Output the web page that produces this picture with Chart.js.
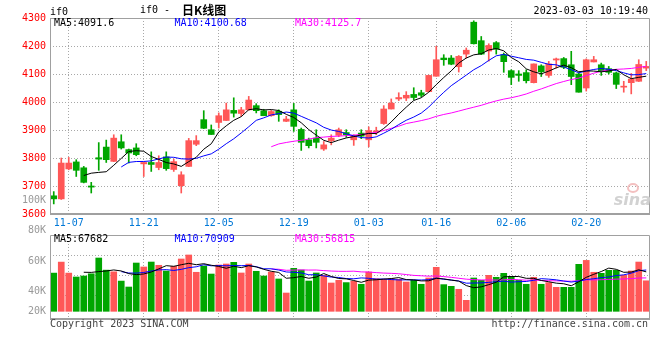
<!DOCTYPE html>
<html>
<head>
<meta charset="utf-8">
<script src="https://cdn.jsdelivr.net/npm/chart.js@4"></script>
<style>
  html, body { margin: 0; padding: 0; background: #fff; }
  #wrap { position: relative; width: 660px; height: 360px; overflow: hidden; }
  canvas { position: absolute; left: 0; }
  #kChart { top: 0; }
  #volChart { top: 222px; }
</style>
</head>
<body>
<div id="wrap">
  <canvas id="kChart" width="660" height="228"></canvas>
  <canvas id="volChart" width="660" height="118"></canvas>
</div>
<script>
const dates = [
  "11-03","11-04","11-07","11-08","11-09","11-10","11-11","11-14","11-15","11-16",
  "11-17","11-18","11-21","11-22","11-23","11-24","11-25","11-28","11-29","11-30",
  "12-01","12-02","12-05","12-06","12-07","12-08","12-09","12-12","12-13","12-14",
  "12-15","12-16","12-19","12-20","12-21","12-22","12-23","12-26","12-27","12-28",
  "12-29","12-30","01-03","01-04","01-05","01-06","01-09","01-10","01-11","01-12",
  "01-13","01-16","01-17","01-18","01-19","01-20","01-30","01-31","02-01","02-02",
  "02-03","02-06","02-07","02-08","02-09","02-10","02-13","02-14","02-15","02-16",
  "02-17","02-20","02-21","02-22","02-23","02-24","02-27","02-28","03-01","03-02"
];
const dateTicks = ["11-07","11-21","12-05","12-19","01-03","01-16","02-06","02-20"];

const opens = [
  3665,3654,3761,3786,3765,3700,3801,3839,3788,3858,
  3830,3836,3779,3784,3766,3804,3759,3701,3770,3849,
  3937,3901,3927,3934,3970,3959,3972,3987,3969,3951,
  3967,3931,3972,3902,3865,3871,3832,3862,3881,3891,
  3865,3889,3865,3892,3923,3975,4011,4014,4027,4033,
  4037,4092,4157,4157,4126,4171,4285,4219,4182,4212,
  4169,4112,4100,4105,4069,4129,4095,4150,4155,4133,
  4100,4050,4143,4133,4119,4104,4053,4069,4074,4121
];
const highs = [
  3680,3800,3802,3794,3770,3713,3855,3864,3883,3883,
  3832,3851,3784,3822,3808,3822,3796,3751,3870,3880,
  3969,3918,3961,3996,4015,3981,4020,3994,3974,3970,
  3972,3949,3995,3907,3871,3901,3859,3883,3907,3901,
  3883,3901,3911,3910,3987,4011,4033,4037,4051,4042,
  4096,4199,4169,4166,4166,4193,4290,4234,4208,4216,
  4175,4115,4112,4115,4136,4133,4145,4157,4159,4181,
  4104,4154,4163,4139,4127,4107,4074,4102,4151,4145
];
const lows = [
  3636,3652,3758,3734,3711,3675,3756,3784,3787,3832,
  3782,3808,3734,3752,3758,3756,3752,3675,3769,3844,
  3905,3884,3907,3934,3946,3949,3971,3961,3951,3949,
  3931,3930,3895,3827,3836,3836,3827,3847,3876,3874,
  3845,3869,3840,3883,3920,3975,4005,4005,4008,4018,
  4036,4092,4131,4133,4107,4157,4207,4169,4146,4171,
  4106,4062,4074,4068,4068,4091,4088,4121,4119,4062,
  4035,4039,4143,4095,4100,4048,4035,4029,4073,4112
];
const closes = [
  3654,3782,3782,3756,3713,3696,3796,3794,3871,3836,
  3818,3812,3784,3777,3784,3762,3787,3740,3862,3862,
  3906,3884,3951,3972,3960,3972,4007,3969,3951,3966,
  3955,3939,3913,3856,3844,3856,3847,3871,3901,3883,
  3880,3878,3898,3897,3975,3996,4016,4024,4016,4024,
  4095,4151,4151,4135,4163,4185,4208,4171,4202,4189,
  4144,4088,4095,4076,4136,4108,4136,4154,4124,4091,
  4035,4151,4151,4111,4106,4063,4055,4082,4134,4127
];
const volumes = [
  65600,84500,65600,58900,60600,64400,91500,70700,67800,51900,
  41700,82900,76100,84600,79000,69200,77300,89800,96700,67000,
  77800,64000,79500,81200,84100,65800,81200,68700,60600,67500,
  55500,31400,73800,70900,52000,65800,61800,48600,53200,49300,
  51500,46400,67500,56100,54900,56100,54900,50300,53200,46400,
  57200,75500,45800,42900,37800,18900,57200,53200,61800,58400,
  65200,60100,53200,46400,58400,46400,49300,41200,41200,41200,
  80700,87400,67000,65200,70400,70400,61800,69200,84600,52400
];
const volGrid = [27000, 61300, 95600];
const volAxisLabels = ["80K", "60K", "40K", "20K"];

const priceMaText = ["MA5:4091.6", "MA10:4100.68", "MA30:4125.7"];
const volMaText = ["MA5:67682", "MA10:70909", "MA30:56815"];

const RED = "#ff5757";
const GREEN = "#00a600";
const GRID = "#a8a8a8";
const MA_COLORS = ["#000000", "#0000ff", "#ff00ff"];
const MONO = '"DejaVu Sans Mono", monospace';

Chart.defaults.font.family = MONO;
Chart.defaults.font.size = 10;

function movingAverage(values, n) {
  return values.map((v, i) => {
    if (i < n - 1) return null;
    let sum = 0;
    for (let k = i - n + 1; k <= i; k++) sum += values[k];
    return sum / n;
  });
}

const candleColor = closes.map((c, i) => (c >= opens[i] ? RED : GREEN));

function maLine(values, n, color) {
  return {
    type: "line",
    data: movingAverage(values, n),
    borderColor: color,
    borderWidth: 1,
    pointRadius: 0,
    tension: 0,
    order: 0,
  };
}

// grey border around the plot area
const framePlugin = {
  id: "frame",
  afterDraw(chart) {
    const { ctx, chartArea: a } = chart;
    ctx.save();
    ctx.strokeStyle = "#a0a0a0";
    ctx.lineWidth = 1;
    ctx.beginPath();
    ctx.moveTo(a.left + 0.5, a.bottom);
    ctx.lineTo(a.left + 0.5, a.top + 0.5);
    ctx.lineTo(a.right - 0.5, a.top + 0.5);
    ctx.lineTo(a.right - 0.5, a.bottom);
    ctx.stroke();
    ctx.lineWidth = 2;
    ctx.beginPath();
    ctx.moveTo(a.left, a.bottom);
    ctx.lineTo(a.right, a.bottom);
    ctx.stroke();
    ctx.restore();
  },
};

const dateGridColor = (c) => (dateTicks.includes(dates[c.index]) ? GRID : "transparent");

const kTexts = {
  id: "kTexts",
  afterDraw(chart) {
    const { ctx, chartArea: a } = chart;
    ctx.save();
    ctx.textBaseline = "middle";
    ctx.font = "10px " + MONO;
    ctx.fillStyle = "#000";
    ctx.textAlign = "left";
    ctx.fillText("if0", a.left, 12);
    ctx.fillText("if0 -", 140, 10.5);
    ctx.font = 'bold 12px "Noto Sans CJK SC", sans-serif';
    ctx.fillText("日K线图", 182, 10.5);
    ctx.font = "10px " + MONO;
    ctx.textAlign = "right";
    ctx.fillText("2023-03-03 10:19:40", 648, 11.5);
    ctx.fillStyle = "#999";
    ctx.fillText("100K", a.left - 4, 200);
    // MA legend
    ctx.textAlign = "left";
    priceMaText.forEach((t, i) => {
      ctx.fillStyle = MA_COLORS[i];
      ctx.fillText(t, a.left + 4 + i * 120.5, a.top + 5.5);
    });
    // watermark
    ctx.font = 'italic bold 16px "DejaVu Sans", sans-serif';
    ctx.fillStyle = "#d2d2d2";
    ctx.textAlign = "right";
    ctx.textBaseline = "alphabetic";
    ctx.fillText("sina", a.right + 1, a.bottom - 9);
    ctx.strokeStyle = "#f3c0c0";
    ctx.lineWidth = 2;
    ctx.beginPath();
    ctx.ellipse(a.right - 17, a.bottom - 26, 5, 4, 0, 0, Math.PI * 2);
    ctx.stroke();
    ctx.restore();
  },
};

new Chart(document.getElementById("kChart"), {
  type: "bar",
  data: {
    labels: dates,
    datasets: [
      maLine(closes, 5, MA_COLORS[0]),
      maLine(closes, 10, MA_COLORS[1]),
      maLine(closes, 30, MA_COLORS[2]),
      {
        data: opens.map((o, i) => [o, closes[i]]),
        backgroundColor: candleColor,
        barThickness: 6,
        minBarLength: 1,
        grouped: false,
        order: 2,
      },
      {
        data: lows.map((l, i) => [l, highs[i]]),
        backgroundColor: candleColor,
        barThickness: 1,
        grouped: false,
        order: 3,
      },
    ],
  },
  options: {
    responsive: false,
    animation: false,
    layout: { padding: { top: 18, right: 10, left: 0, bottom: 0 } },
    plugins: { legend: { display: false }, tooltip: { enabled: false } },
    scales: {
      x: {
        offset: true,
        grid: { offset: false, color: dateGridColor, drawTicks: false },
        border: { display: false, dash: [1, 2] },
        ticks: {
          autoSkip: false,
          maxRotation: 0,
          padding: 3,
          color: "#0078d7",
          callback: (v, i) => (dateTicks.includes(dates[i]) ? dates[i] : ""),
        },
        afterFit: (s) => { s.height = 14; },
      },
      y: {
        min: 3600,
        max: 4300,
        ticks: { stepSize: 100, color: "#ff0000", padding: 4, callback: (v) => String(v) },
        grid: { color: GRID, drawTicks: false },
        border: { display: false, dash: [1, 2] },
        afterFit: (s) => { s.width = 50; },
      },
    },
  },
  plugins: [framePlugin, kTexts],
});

const volTexts = {
  id: "volTexts",
  afterDraw(chart) {
    const { ctx, chartArea: a } = chart;
    ctx.save();
    ctx.textBaseline = "middle";
    ctx.font = "10px " + MONO;
    ctx.textAlign = "left";
    volMaText.forEach((t, i) => {
      ctx.fillStyle = MA_COLORS[i];
      ctx.fillText(t, a.left + 4 + i * 120.5, a.top + 4.5);
    });
    ctx.fillStyle = "#999";
    ctx.textAlign = "right";
    const labelY = [8.3, 39, 69, 89];
    volAxisLabels.forEach((t, i) => ctx.fillText(t, a.left - 4, labelY[i]));
    ctx.fillStyle = "#444";
    ctx.textAlign = "left";
    ctx.fillText("Copyright 2023 SINA.COM", a.left, 102);
    ctx.textAlign = "right";
    ctx.fillText("http://finance.sina.com.cn", 648, 102);
    ctx.restore();
  },
};

new Chart(document.getElementById("volChart"), {
  type: "bar",
  data: {
    labels: dates,
    datasets: [
      maLine(volumes, 5, MA_COLORS[0]),
      maLine(volumes, 10, MA_COLORS[1]),
      maLine(volumes, 30, MA_COLORS[2]),
      {
        data: volumes,
        backgroundColor: candleColor,
        barThickness: 6,
        grouped: false,
        order: 2,
      },
    ],
  },
  options: {
    responsive: false,
    animation: false,
    layout: { padding: { top: 13, right: 10, left: 0, bottom: 21 } },
    plugins: { legend: { display: false }, tooltip: { enabled: false } },
    scales: {
      x: {
        offset: true,
        grid: { offset: false, color: dateGridColor, drawTicks: false },
        border: { display: false, dash: [1, 2] },
        ticks: { display: false },
        afterFit: (s) => { s.height = 0; },
      },
      y: {
        min: -13200,
        max: 131000,
        afterBuildTicks: (s) => { s.ticks = volGrid.map((v) => ({ value: v })); },
        ticks: { display: false },
        grid: { color: GRID, drawTicks: false },
        border: { display: false, dash: [1, 2] },
        afterFit: (s) => { s.width = 50; },
      },
    },
  },
  plugins: [framePlugin, volTexts],
});
</script>
</body>
</html>
